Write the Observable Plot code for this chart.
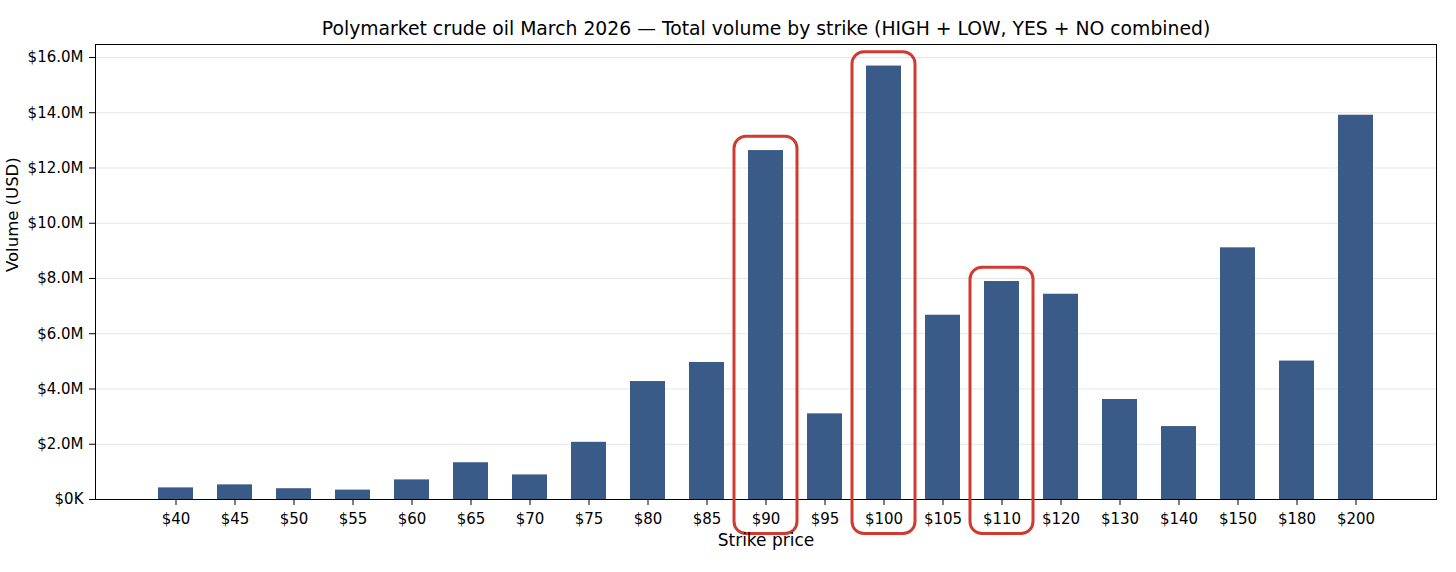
<!DOCTYPE html>
<html><head><meta charset="utf-8">
<script src="https://cdn.jsdelivr.net/npm/d3@7"></script>
<script src="https://cdn.jsdelivr.net/npm/@observablehq/plot@0.6"></script>
<style>
body{margin:0;background:#fff;}
svg{font-family:"DejaVu Sans",sans-serif;}
</style>
</head><body><div id="chart"></div>
<script>
const strikes = ["$40","$45","$50","$55","$60","$65","$70","$75","$80","$85","$90","$95","$100","$105","$110","$120","$130","$140","$150","$180","$200"];
const volumesM = [0.42,0.53,0.39,0.34,0.71,1.33,0.89,2.07,4.27,4.96,12.63,3.10,15.69,6.67,7.89,7.43,3.62,2.64,9.11,5.01,13.91];
const highlighted = ["$90","$100","$110"];
const yTicks = [0,2,4,6,8,10,12,14,16];
const titleText = "Polymarket crude oil March 2026 — Total volume by strike (HIGH + LOW, YES + NO combined)";
const xLabel = "Strike price";
const yLabel = "Volume (USD)";

const data = strikes.map((s,i)=>({strike:s, volume:volumesM[i]}));
const hl = data.filter(d=>highlighted.includes(d.strike));

const fmt = d => d === 0 ? "$0K" : `$${d.toFixed(1)}M`;

const chart = Plot.plot({
  width:1456, height:572,
  marginLeft:95, marginRight:20, marginTop:44, marginBottom:73,
  style:{color:"black", background:"white"},
  x:{type:"band", domain:strikes, paddingInner:0.4, paddingOuter:1.03, axis:null},
  y:{domain:[0,16.47], axis:null},
  marks:[
    Plot.gridY(yTicks,{stroke:"#e6e6e6", strokeOpacity:1, strokeWidth:1}),
    Plot.barY(data,{x:"strike", y:"volume", fill:"#3a5a87"}),
    Plot.frame({stroke:"black", strokeWidth:1}),
    Plot.axisY(yTicks,{tickFormat:fmt, tickSize:6, tickPadding:6, fontSize:15, label:null}),
    Plot.axisX({tickSize:6, tickPadding:8, fontSize:15, label:null}),
    Plot.barY(hl,{x:"strike", y1:-1.25, y2:d=>d.volume+0.5, fill:"none", stroke:"#d03a30", strokeWidth:3, rx:12, insetLeft:-14, insetRight:-14}),
    Plot.text([yLabel],{text:d=>d, frameAnchor:"left", dx:-83, rotate:-90, fontSize:16.5}),
    Plot.text([xLabel],{text:d=>d, frameAnchor:"bottom", lineAnchor:"middle", dy:41, fontSize:17}),
    Plot.text([titleText],{text:d=>d, frameAnchor:"top", lineAnchor:"middle", dy:-16, fontSize:18.8})
  ]
});
document.getElementById("chart").append(chart);
</script>
</body></html>
